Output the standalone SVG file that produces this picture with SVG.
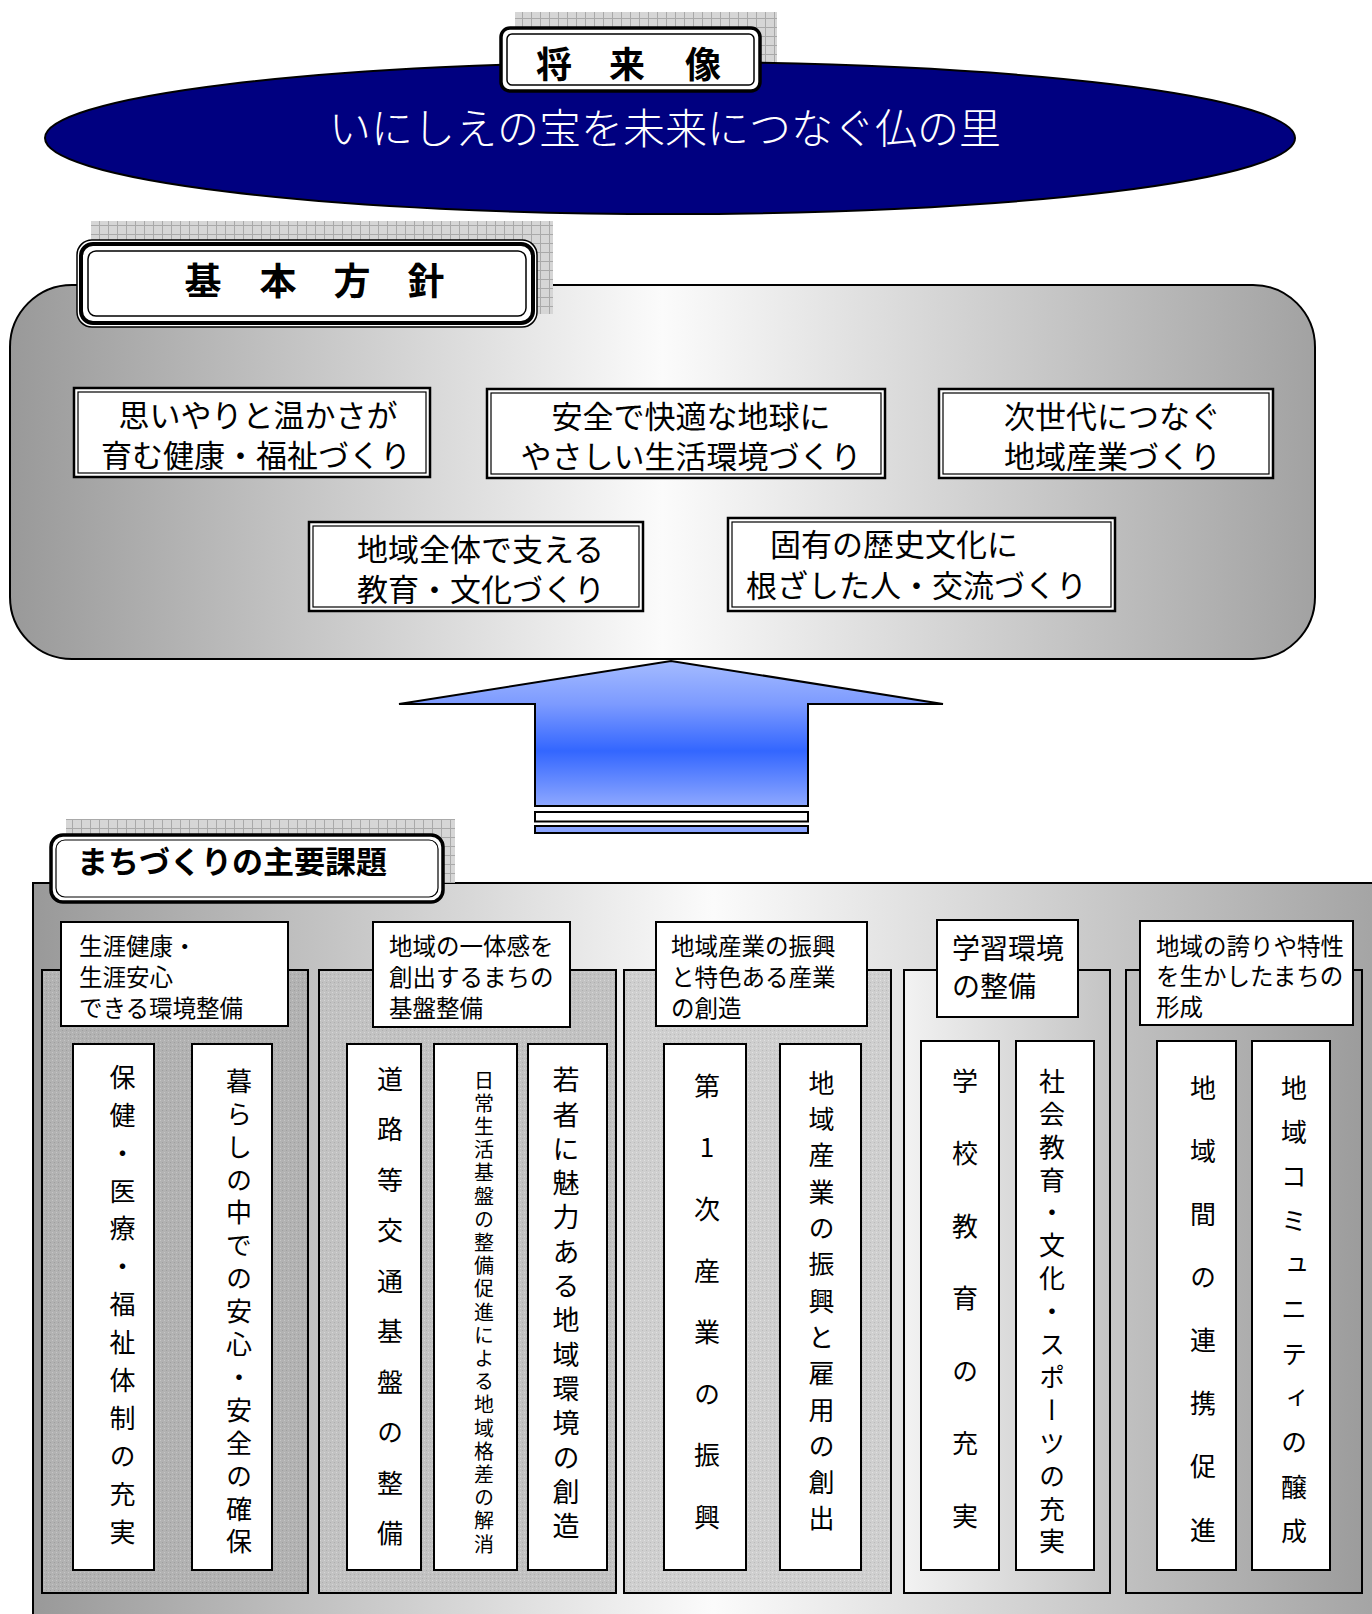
<svg xmlns="http://www.w3.org/2000/svg" width="1372" height="1614" viewBox="0 0 1372 1614">
<defs>
  <linearGradient id="gPanel" x1="0" y1="0" x2="1" y2="0">
    <stop offset="0" stop-color="#999999"/>
    <stop offset="0.5" stop-color="#fbfbfb"/>
    <stop offset="1" stop-color="#a2a2a2"/>
  </linearGradient>
  <linearGradient id="gArrow" x1="0" y1="0" x2="0" y2="1">
    <stop offset="0" stop-color="#a4bbff"/>
    <stop offset="0.3" stop-color="#7c9aff"/>
    <stop offset="0.62" stop-color="#3366ff"/>
    <stop offset="1" stop-color="#8ea8ff"/>
  </linearGradient>
  <linearGradient id="gG4" x1="0" y1="0" x2="1" y2="0">
    <stop offset="0" stop-color="#f2f2f2"/>
    <stop offset="1" stop-color="#c4c4c4"/>
  </linearGradient>
  <linearGradient id="gG5" x1="0" y1="0" x2="1" y2="0">
    <stop offset="0" stop-color="#c0c0c0"/>
    <stop offset="1" stop-color="#9c9c9c"/>
  </linearGradient>
  <pattern id="grid" width="9" height="9" patternUnits="userSpaceOnUse">
    <rect width="9" height="9" fill="#d6d6d6"/>
    <path d="M0 0.5H9M0.5 0V9" stroke="#a9a9a9" stroke-width="1"/>
  </pattern>
  <pattern id="tex1" width="4" height="4" patternUnits="userSpaceOnUse">
    <rect width="4" height="4" fill="#b2b2b2"/>
    <rect x="0" y="0" width="1" height="1" fill="#c6c6c6"/>
    <rect x="2" y="2" width="1" height="1" fill="#9e9e9e"/>
  </pattern>
  <pattern id="tex2" width="4" height="4" patternUnits="userSpaceOnUse">
    <rect width="4" height="4" fill="#c2c2c2"/>
    <rect x="0" y="0" width="1" height="1" fill="#d6d6d6"/>
    <rect x="2" y="2" width="1" height="1" fill="#aeaeae"/>
  </pattern>
  <pattern id="tex3" width="4" height="4" patternUnits="userSpaceOnUse">
    <rect width="4" height="4" fill="#cfcfcf"/>
    <rect x="0" y="0" width="1" height="1" fill="#e2e2e2"/>
    <rect x="2" y="2" width="1" height="1" fill="#bababa"/>
  </pattern>
</defs>
<style>
  text { font-family: "Noto Sans CJK JP", "Noto Sans CJK SC", sans-serif; fill: #000; dominant-baseline: central; }
  .v { writing-mode: vertical-rl; text-orientation: upright; font-size: 26px; }
  .wb { fill: #fff; stroke: #000; stroke-width: 2; }
  .dbl-o { fill: #fff; stroke: #000; stroke-width: 2.5; }
  .dbl-i { fill: none; stroke: #000; stroke-width: 1.2; }
  .pol { font-size: 31px; }
  .hd { font-size: 23.5px; }
  .shadow { fill: url(#grid); }
</style>
<rect width="1372" height="1614" fill="#fff"/>

<!-- Vision -->
<g id="vision">
  <rect class="shadow" x="515" y="12" width="262" height="66"/>
  <ellipse cx="670" cy="138" rx="625" ry="76" fill="#000080" stroke="#000" stroke-width="2"/>
  <text x="665" y="125" text-anchor="middle" font-size="42" font-weight="300" style="fill:#fff">いにしえの宝を未来につなぐ仏の里</text>
  <rect x="501" y="28" width="259" height="63" rx="9" fill="#fff" stroke="#000" stroke-width="3.5"/>
  <rect x="507" y="34" width="247" height="51" rx="5" fill="none" stroke="#000" stroke-width="1.5"/>
  <text x="554 627 703" y="62" text-anchor="middle" font-size="36" font-weight="bold">将来像</text>
</g>

<!-- Basic policy panel -->
<g id="policy">
  <rect x="10" y="285" width="1305" height="374" rx="62" fill="url(#gPanel)" stroke="#000" stroke-width="2"/>
  <rect class="shadow" x="91" y="221" width="462" height="93"/>
  <rect x="77" y="240" width="460" height="87" rx="15" fill="#fff" stroke="#000" stroke-width="1.5"/>
  <rect x="81" y="244" width="452" height="79" rx="12" fill="none" stroke="#000" stroke-width="4"/>
  <rect x="88" y="251" width="438" height="65" rx="8" fill="none" stroke="#000" stroke-width="1.5"/>
  <text x="203 278 352 426" y="279" text-anchor="middle" font-size="37" font-weight="bold">基本方針</text>
</g>

<g id="policy1">
  <rect class="dbl-o" x="74" y="388" width="356" height="89"/>
  <rect class="dbl-i" x="78" y="392" width="348" height="81"/>
  <text class="pol" x="258" y="413" text-anchor="middle">思いやりと温かさが</text>
  <text class="pol" x="256" y="453" text-anchor="middle">育む健康・福祉づくり</text>
</g>
<g id="policy2">
  <rect class="dbl-o" x="487" y="389" width="398" height="89"/>
  <rect class="dbl-i" x="491" y="393" width="390" height="81"/>
  <text class="pol" x="691" y="414" text-anchor="middle">安全で快適な地球に</text>
  <text class="pol" x="691" y="454" text-anchor="middle">やさしい生活環境づくり</text>
</g>
<g id="policy3">
  <rect class="dbl-o" x="939" y="389" width="334" height="89"/>
  <rect class="dbl-i" x="943" y="393" width="326" height="81"/>
  <text class="pol" x="1004" y="414">次世代につなぐ</text>
  <text class="pol" x="1004" y="454">地域産業づくり</text>
</g>
<g id="policy4">
  <rect class="dbl-o" x="309" y="522" width="334" height="89"/>
  <rect class="dbl-i" x="313" y="526" width="326" height="81"/>
  <text class="pol" x="357" y="547">地域全体で支える</text>
  <text class="pol" x="357" y="587">教育・文化づくり</text>
</g>
<g id="policy5">
  <rect class="dbl-o" x="728" y="518" width="387" height="93"/>
  <rect class="dbl-i" x="732" y="522" width="379" height="85"/>
  <text class="pol" x="770" y="542">固有の歴史文化に</text>
  <text class="pol" x="746" y="583">根ざした人・交流づくり</text>
</g>

<!-- Connector -->
<g id="connectors">
  <polygon points="399,704 671,661 943,704 808,704 808,806 535,806 535,704" fill="url(#gArrow)" stroke="#000" stroke-width="2" stroke-linejoin="miter"/>
  <rect x="535" y="812" width="273" height="9.5" fill="#fff" stroke="#000" stroke-width="2"/>
  <rect x="535" y="826" width="273" height="7" fill="#8aa4ff" stroke="#000" stroke-width="2"/>
</g>

<!-- Main issues -->
<g id="issues">
  <rect x="33" y="883" width="1360" height="760" fill="url(#gPanel)" stroke="#000" stroke-width="2"/>
  <rect class="shadow" x="66" y="819" width="389" height="64"/>
  <rect x="51" y="835" width="392" height="67" rx="12" fill="#fff" stroke="#000" stroke-width="3.5"/>
  <rect x="56" y="840" width="382" height="57" rx="9" fill="none" stroke="#000" stroke-width="1.2"/>
  <text x="77" y="859" font-size="31" font-weight="bold">まちづくりの主要課題</text>
</g>

<g id="issue1">
  <rect x="42" y="970" width="266" height="623" fill="url(#tex1)" stroke="#000" stroke-width="2"/>
  <rect class="wb" x="61" y="922" width="227" height="104"/>
  <text class="hd" x="79" y="945">生涯健康・</text>
  <text class="hd" x="79" y="976">生涯安心</text>
  <text class="hd" x="79" y="1007">できる環境整備</text>
  <rect class="wb" x="73" y="1044" width="81" height="526"/>
  <text class="v" x="122.5" y="1064" style="letter-spacing:11.9px">保健・医療・福祉体制の充実</text>
  <rect class="wb" x="192" y="1044" width="80" height="526"/>
  <text class="v" x="239" y="1068" style="letter-spacing:6.9px">暮らしの中での安心・安全の確保</text>
</g>

<g id="issue2">
  <rect x="319" y="970" width="297" height="623" fill="url(#tex2)" stroke="#000" stroke-width="2"/>
  <rect class="wb" x="373" y="922" width="197" height="105"/>
  <text class="hd" x="389" y="945">地域の一体感を</text>
  <text class="hd" x="389" y="976">創出するまちの</text>
  <text class="hd" x="389" y="1007">基盤整備</text>
  <rect class="wb" x="347" y="1044" width="74" height="526"/>
  <text class="v" x="390" y="1066" style="letter-spacing:24.5px">道路等交通基盤の整備</text>
  <rect class="wb" x="434" y="1044" width="83" height="526"/>
  <text class="v" x="484" y="1070" style="font-size:20px;letter-spacing:3.2px">日常生活基盤の整備促進による地域格差の解消</text>
  <rect class="wb" x="528" y="1044" width="79" height="526"/>
  <text class="v" x="566" y="1066.5" style="font-size:27px;letter-spacing:7.3px">若者に魅力ある地域環境の創造</text>
</g>

<g id="issue3">
  <rect x="624" y="970" width="267" height="623" fill="url(#tex3)" stroke="#000" stroke-width="2"/>
  <rect class="wb" x="656" y="922" width="211" height="104"/>
  <text class="hd" x="671" y="945">地域産業の振興</text>
  <text class="hd" x="671" y="976">と特色ある産業</text>
  <text class="hd" x="671" y="1007">の創造</text>
  <rect class="wb" x="664" y="1044" width="82" height="526"/>
  <text class="v" x="707" y="1073" style="letter-spacing:35.6px">第1次産業の振興</text>
  <rect class="wb" x="780" y="1044" width="81" height="526"/>
  <text class="v" x="821.5" y="1070" style="letter-spacing:10.3px">地域産業の振興と雇用の創出</text>
</g>

<g id="issue4">
  <rect x="904" y="970" width="206" height="623" fill="url(#gG4)" stroke="#000" stroke-width="2"/>
  <rect class="wb" x="937" y="920" width="141" height="97"/>
  <text x="952" y="947" font-size="28">学習環境</text>
  <text x="952" y="985" font-size="28">の整備</text>
  <rect class="wb" x="921" y="1041" width="78" height="529"/>
  <text class="v" x="965" y="1068" style="letter-spacing:46.5px">学校教育の充実</text>
  <rect class="wb" x="1016" y="1041" width="78" height="529"/>
  <text class="v" x="1052" y="1068" style="letter-spacing:6.9px">社会教育・文化・スポーツの充実</text>
</g>

<g id="issue5">
  <rect x="1126" y="970" width="236" height="623" fill="url(#gG5)" stroke="#000" stroke-width="2"/>
  <rect class="wb" x="1140" y="921" width="213" height="104"/>
  <text class="hd" x="1156" y="945">地域の誇りや特性</text>
  <text class="hd" x="1156" y="975">を生かしたまちの</text>
  <text class="hd" x="1156" y="1006">形成</text>
  <rect class="wb" x="1157" y="1041" width="79" height="529"/>
  <text class="v" x="1203" y="1075" style="letter-spacing:37.1px">地域間の連携促進</text>
  <rect class="wb" x="1252" y="1041" width="78" height="529"/>
  <text class="v" x="1294" y="1075" style="letter-spacing:18.3px">地域コミュニティの醸成</text>
</g>
</svg>
